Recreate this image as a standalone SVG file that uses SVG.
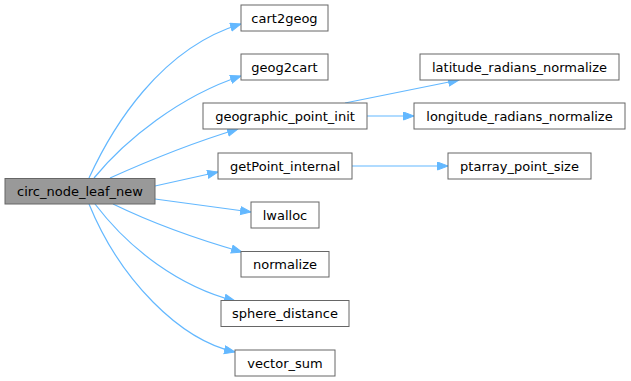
<svg xmlns="http://www.w3.org/2000/svg" width="631" height="381" viewBox="0 0 631 381">
<style>
.n rect{fill:#ffffff;stroke:#666666;stroke-width:1}
.n.main rect{fill:#999999}
.n text{font-family:"DejaVu Sans",sans-serif;font-size:13px;text-anchor:middle;fill:#000000}
.e path{fill:none;stroke:#63b8ff;stroke-width:1.2;marker-end:url(#ah)}
</style>
<defs>
<marker id="ah" markerUnits="userSpaceOnUse" markerWidth="12" markerHeight="10" refX="11" refY="4.5" orient="auto">
<path d="M0.5,0.5 L11,4.5 L0.5,8.5 z" fill="#63b8ff" stroke="#63b8ff" stroke-width="1"/>
</marker>
</defs>
<g id="edges" class="e">
<path d="M89,178 C112,128 160,48 241,24"/>
<path d="M94,178 C125,140 180,96 241,76"/>
<path d="M110,178 C150,160 195,142 238,129"/>
<path d="M155,186 L218,172"/>
<path d="M155,199 L251,212"/>
<path d="M113,204 C150,222 200,240 242,252"/>
<path d="M95,204 C130,250 180,287 235,301"/>
<path d="M89,204 C120,280 180,340 235,352"/>
<path d="M345,103 L459,80"/>
<path d="M367,116 L414,116"/>
<path d="M352,166 L448,166"/>
</g>
<g id="circ_node_leaf_new" class="n main"><rect x="5" y="178.5" width="150" height="25.5"/><text x="80" y="195.5">circ_node_leaf_new</text></g>
<g id="cart2geog" class="n"><rect x="241" y="5" width="87" height="26"/><text x="284.5" y="22.5">cart2geog</text></g>
<g id="geog2cart" class="n"><rect x="241" y="54" width="87" height="26"/><text x="284.5" y="71.5">geog2cart</text></g>
<g id="geographic_point_init" class="n"><rect x="203" y="103" width="164" height="26"/><text x="285" y="120.5">geographic_point_init</text></g>
<g id="getPoint_internal" class="n"><rect x="218" y="153" width="134" height="26"/><text x="285" y="170.5">getPoint_internal</text></g>
<g id="lwalloc" class="n"><rect x="251" y="202" width="68" height="26"/><text x="285" y="219.5">lwalloc</text></g>
<g id="normalize" class="n"><rect x="241" y="251.5" width="88" height="25.5"/><text x="285" y="268.5">normalize</text></g>
<g id="sphere_distance" class="n"><rect x="221" y="300.5" width="128" height="26"/><text x="285" y="318">sphere_distance</text></g>
<g id="vector_sum" class="n"><rect x="235" y="350" width="100" height="26"/><text x="285" y="367.5">vector_sum</text></g>
<g id="latitude_radians_normalize" class="n"><rect x="420" y="54" width="199" height="26"/><text x="519.5" y="71.5">latitude_radians_normalize</text></g>
<g id="longitude_radians_normalize" class="n"><rect x="414" y="103" width="211" height="26"/><text x="519.5" y="120.5">longitude_radians_normalize</text></g>
<g id="ptarray_point_size" class="n"><rect x="448" y="153" width="143" height="26"/><text x="519.5" y="170.5">ptarray_point_size</text></g>
</svg>
